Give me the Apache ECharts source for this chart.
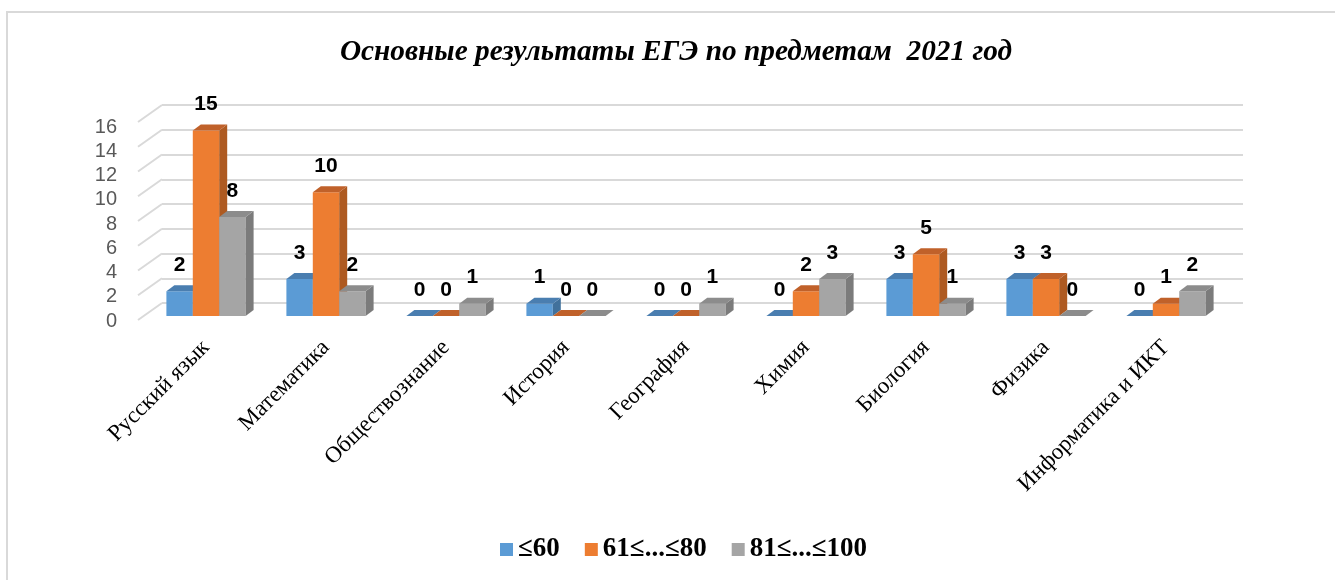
<!DOCTYPE html>
<html>
<head>
<meta charset="utf-8">
<script src="https://cdn.jsdelivr.net/npm/echarts@6/dist/echarts.min.js"></script>
<style>
html,body{margin:0;padding:0;background:#fff;}
#main{width:1335px;height:580px;}
</style>
</head>
<body>
<div id="main"></div>
<script>
// данные
var subjects = ['Русский язык', 'Математика', 'Обществознание', 'История', 'География', 'Химия', 'Биология', 'Физика', 'Информатика и ИКТ'];
var seriesNames = ['≤60', '61≤...≤80', '81≤...≤100'];
var low = [2, 3, 0, 1, 0, 0, 3, 3, 0];
var mid = [15, 10, 0, 0, 0, 2, 5, 3, 1];
var high = [8, 2, 1, 0, 1, 3, 1, 0, 2];
var yTicks = [0, 2, 4, 6, 8, 10, 12, 14, 16];

var colors = ['#5B9BD5', '#ED7D31', '#A5A5A5'];
var sideColors = ['#41719C', '#AE5A21', '#7B7B7B'];
var topColors = ['#4A7EB0', '#C0612A', '#8C8C8C'];
var DX = 8, DY = 6;

function bar3d(k) {
	return function (params, api) {
		var idx = api.value(0), v = api.value(1);
		var base = api.coord([idx, 0]);
		var top = api.coord([idx, v]);
		var bw = api.size([1, 0])[0] * 0.22;
		var x0 = base[0] + (k - 1.5) * bw;
		var yb = base[1], yt = top[1];
		return {
			type: 'group',
			children: [
				{ type: 'rect', shape: { x: x0, y: yt, width: bw, height: yb - yt }, style: { fill: colors[k] } },
				{ type: 'polygon', shape: { points: [[x0 + bw, yt], [x0 + bw + DX, yt - DY], [x0 + bw + DX, yb - DY], [x0 + bw, yb]] }, style: { fill: sideColors[k] } },
				{ type: 'polygon', shape: { points: [[x0, yt], [x0 + DX, yt - DY], [x0 + bw + DX, yt - DY], [x0 + bw, yt]] }, style: { fill: topColors[k] } },
				{ type: 'text', x: x0 + bw / 2, y: yt - 26, style: { text: String(v), fill: '#000', font: 'bold 21px "Liberation Sans", Arial', align: 'center', verticalAlign: 'middle' } }
			]
		};
	};
}

function seriesData(arr) {
	return arr.map(function (v, i) { return [i, v]; });
}

var option = {
	animation: false,
	title: {
		text: 'Основные результаты ЕГЭ по предметам  2021 год',
		left: 671,
		textAlign: 'center',
		top: 33,
		textStyle: { fontFamily: 'Liberation Serif', fontStyle: 'italic', fontWeight: 'bold', fontSize: 29.3, color: '#000' }
	},
	legend: {
		data: seriesNames,
		bottom: 12,
		left: 495,
		icon: 'rect',
		itemWidth: 13,
		itemHeight: 13,
		itemGap: 25,
		textStyle: { fontFamily: 'Liberation Serif', fontWeight: 'bold', fontSize: 27, color: '#000' }
	},
	graphic: [
		{ type: 'rect', shape: { x: 7, y: 12, width: 1340, height: 580 }, style: { fill: 'none', stroke: '#d9d9d9', lineWidth: 2 }, silent: true }
	],
	grid: [
		// задняя стенка
		{ left: 162, right: 92, top: 105, bottom: 277 },
		// подписи оси Y
		{ left: 123, right: 92, top: 127, bottom: 259 },
		// столбцы
		{ left: 146, right: 109, top: 118, bottom: 264 }
	],
	xAxis: [
		{ gridIndex: 0, type: 'value', min: 0, max: 1, show: false },
		{ gridIndex: 1, type: 'value', min: 0, max: 1, show: false },
		{
			gridIndex: 2, type: 'category', data: subjects,
			axisLine: { show: false }, axisTick: { show: false },
			axisLabel: { rotate: 45, margin: 28, interval: 0, fontFamily: 'Liberation Serif', fontSize: 23, color: '#000' }
		}
	],
	yAxis: [
		{
			gridIndex: 0, type: 'value', min: 0, max: 16, interval: 2,
			axisLabel: { show: false }, axisLine: { show: false }, axisTick: { show: false },
			splitLine: { lineStyle: { color: '#d9d9d9', width: 2 } }
		},
		{
			gridIndex: 1, type: 'value', min: 0, max: 16, interval: 2,
			axisLine: { show: false }, axisTick: { show: false }, splitLine: { show: false },
			axisLabel: { margin: 6, fontFamily: 'Liberation Sans', fontSize: 20, color: '#595959' }
		},
		{ gridIndex: 2, type: 'value', min: 0, max: 16, show: false }
	],
	series: [
		{
			type: 'custom', xAxisIndex: 0, yAxisIndex: 0, silent: true,
			data: yTicks.map(function (t) { return [0, t]; }),
			renderItem: function (params, api) {
				var p = api.coord([0, api.value(1)]);
				return { type: 'line', shape: { x1: p[0], y1: p[1], x2: p[0] - 24, y2: p[1] + 17 }, style: { stroke: '#d9d9d9', lineWidth: 2 } };
			}
		},
		{ name: seriesNames[0], type: 'custom', xAxisIndex: 2, yAxisIndex: 2, itemStyle: { color: colors[0] }, data: seriesData(low), renderItem: bar3d(0) },
		{ name: seriesNames[1], type: 'custom', xAxisIndex: 2, yAxisIndex: 2, itemStyle: { color: colors[1] }, data: seriesData(mid), renderItem: bar3d(1) },
		{ name: seriesNames[2], type: 'custom', xAxisIndex: 2, yAxisIndex: 2, itemStyle: { color: colors[2] }, data: seriesData(high), renderItem: bar3d(2) }
	]
};

var chart = echarts.init(document.getElementById('main'));
chart.setOption(option);
</script>
</body>
</html>
